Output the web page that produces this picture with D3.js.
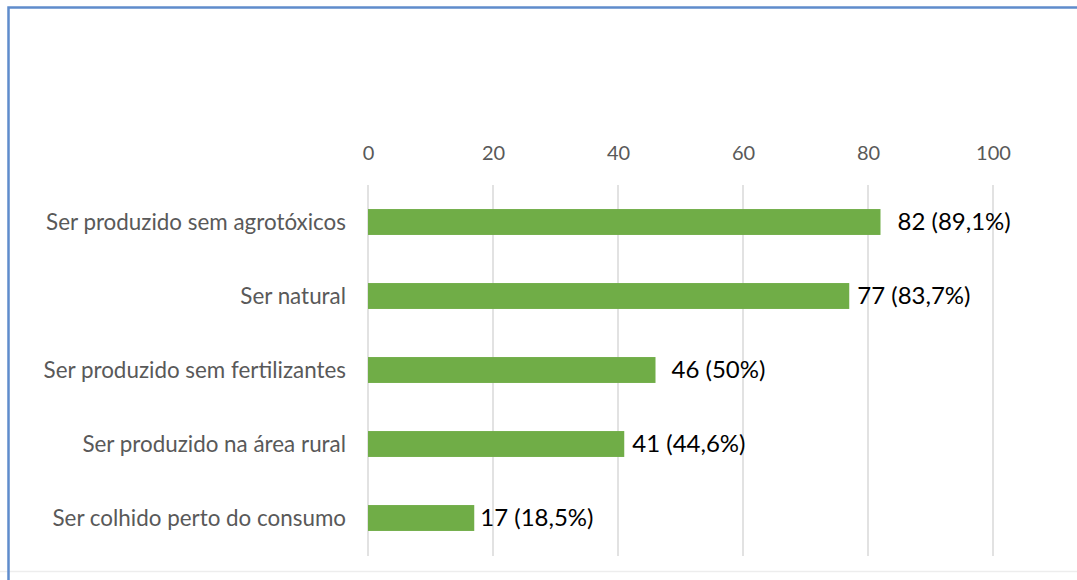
<!DOCTYPE html>
<html>
<head>
<meta charset="utf-8">
<script src="https://cdn.jsdelivr.net/npm/d3@7"></script>
<style>
  html, body { margin: 0; padding: 0; background: #ffffff; }
  svg { display: block; }
</style>
</head>
<body>
<svg id="chart" width="1077" height="580"></svg>
<script>
// Attributes valued by consumers (count and share of respondents)
const categories = [
  "Ser produzido sem agrotóxicos",
  "Ser natural",
  "Ser produzido sem fertilizantes",
  "Ser produzido na área rural",
  "Ser colhido perto do consumo"
];
const counts = [82, 77, 46, 41, 17];
const shares = ["89,1%", "83,7%", "50%", "44,6%", "18,5%"];
const tickValues = [0, 20, 40, 60, 80, 100];

// Horizontal gap between each bar end and its label
const labelGap = [17, 8, 16, 8, 6];

const svg = d3.select("#chart");
const W = 1077, H = 580;
const font = "Lato, 'Open Sans', sans-serif";

// Frame
svg.append("line")
  .attr("x1", 0).attr("x2", W).attr("y1", 571.5).attr("y2", 571.5)
  .attr("stroke", "#ededed").attr("stroke-width", 1.5);
svg.append("path")
  .attr("d", `M8.5,${H} L8.5,7.5 L${W},7.5`)
  .attr("fill", "none")
  .attr("stroke", "#5f8ccc")
  .attr("stroke-width", 2.5);

const x = d3.scaleLinear().domain([0, 100]).range([368, 993]);
const y = d3.scaleBand()
  .domain(categories)
  .range([185, 555])
  .paddingInner(0.65)
  .paddingOuter(0.325);

// Vertical gridlines
svg.append("g")
  .selectAll("line")
  .data(tickValues)
  .join("line")
  .attr("x1", d => x(d)).attr("x2", d => x(d))
  .attr("y1", 185).attr("y2", 556)
  .attr("stroke", "#d9d9d9")
  .attr("stroke-width", 1.5);

// Value axis on top
const xAxis = d3.axisTop(x).tickValues(tickValues).tickSize(0).tickPadding(0);
const gx = svg.append("g").attr("transform", "translate(0,160)").call(xAxis);
gx.select(".domain").remove();
gx.selectAll("text")
  .attr("font-family", font)
  .attr("font-size", 20)
  .attr("fill", "#595959")
  .attr("dy", 0);

// Category axis
const yAxis = d3.axisLeft(y).tickSize(0).tickPadding(0);
const gy = svg.append("g").attr("transform", "translate(346,0)").call(yAxis);
gy.select(".domain").remove();
gy.selectAll("text")
  .attr("font-family", font)
  .attr("font-size", 22.4)
  .attr("fill", "#595959")
  .attr("dy", "0.35em");

const rows = categories.map((c, i) => ({ c, v: counts[i], s: shares[i], gap: labelGap[i] }));

// Bars
svg.append("g")
  .selectAll("rect")
  .data(rows)
  .join("rect")
  .attr("x", x(0))
  .attr("y", d => y(d.c))
  .attr("width", d => x(d.v) - x(0))
  .attr("height", y.bandwidth())
  .attr("fill", "#70ad47");

// Value labels
svg.append("g")
  .selectAll("text")
  .data(rows)
  .join("text")
  .attr("x", d => x(d.v) + d.gap)
  .attr("y", d => y(d.c) + y.bandwidth() / 2)
  .attr("dy", "0.35em")
  .attr("font-family", font)
  .attr("font-size", 24)
  .attr("fill", "#000000")
  .text(d => `${d.v} (${d.s})`);
</script>
</body>
</html>
